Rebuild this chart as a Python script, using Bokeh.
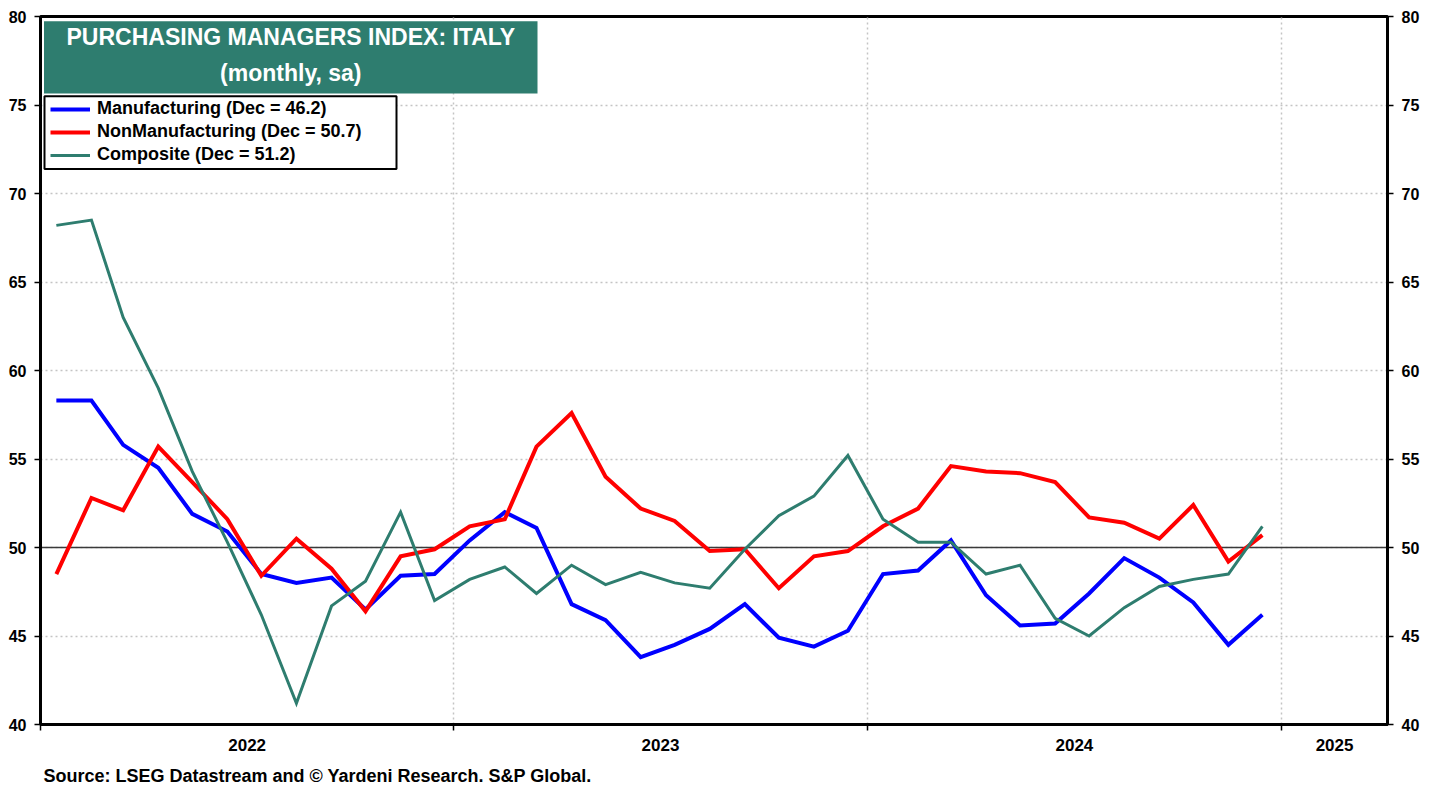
import pandas as pd
from bokeh.plotting import figure
from bokeh.models import (Range1d, FixedTicker, LinearAxis, Span, BoxAnnotation,
                          Label, Legend, LegendItem, Title)
from bokeh.embed import file_html
from bokeh.resources import INLINE

# ---------------- data ----------------
months = pd.date_range("2022-01-01", "2024-12-01", freq="MS") + pd.Timedelta(days=14)

manufacturing = [58.3, 58.3, 55.8, 54.5, 51.9, 50.9, 48.5, 48.0, 48.3, 46.5, 48.4, 48.5,
                 50.4, 52.0, 51.1, 46.8, 45.9, 43.8, 44.5, 45.4, 46.8, 44.9, 44.4, 45.3,
                 48.5, 48.7, 50.4, 47.3, 45.6, 45.7, 47.4, 49.4, 48.3, 46.9, 44.5, 46.2]
nonmanufacturing = [48.5, 52.8, 52.1, 55.7, 53.7, 51.6, 48.4, 50.5, 48.8, 46.4, 49.5, 49.9,
                    51.2, 51.6, 55.7, 57.6, 54.0, 52.2, 51.5, 49.8, 49.9, 47.7, 49.5, 49.8,
                    51.2, 52.2, 54.6, 54.3, 54.2, 53.7, 51.7, 51.4, 50.5, 52.4, 49.2, 50.7]
composite = [68.2, 68.5, 63.0, 59.0, 54.3, 50.3, 46.2, 41.2, 46.7, 48.1, 52.0, 47.0,
             48.2, 48.9, 47.4, 49.0, 47.9, 48.6, 48.0, 47.7, 49.9, 51.8, 52.9, 55.2,
             51.6, 50.3, 50.3, 48.5, 49.0, 46.0, 45.0, 46.6, 47.8, 48.2, 48.5, 51.2]

legend_labels = ["Manufacturing (Dec = 46.2)",
                 "NonManufacturing (Dec = 50.7)",
                 "Composite (Dec = 51.2)"]
title_lines = ["PURCHASING MANAGERS INDEX: ITALY", "(monthly, sa)"]
source_text = "Source: LSEG Datastream and \u00a9 Yardeni Research. S&P Global."
year_labels = ["2022", "2023", "2024", "2025"]
y_ticks = [40, 45, 50, 55, 60, 65, 70, 75, 80]
neutral_level = 50

# ---------------- style ----------------
BLUE = "#0000FF"
RED = "#FF0000"
TEAL = "#2E7D6F"
FONT = "Liberation Sans"
GRID = "#c4c4c4"

x_start = pd.Timestamp("2022-01-01")
x_end = pd.Timestamp("2025-04-04 12:00")


def ms(ts):
    return float(pd.Timestamp(ts).value // 10**6)


year_starts = [pd.Timestamp(f"{y}-01-01") for y in year_labels]
label_pos = []
for i, ys in enumerate(year_starts):
    ye = year_starts[i + 1] if i + 1 < len(year_starts) else x_end
    label_pos.append(ms(ys + (ye - ys) / 2))

p = figure(width=1439, height=785, x_axis_type="datetime",
           x_range=Range1d(start=x_start, end=x_end),
           y_range=Range1d(start=y_ticks[0], end=y_ticks[-1]),
           output_backend="svg", toolbar_location=None,
           min_border_left=40, min_border_right=52,
           min_border_top=16, min_border_bottom=61,
           background_fill_color="white", border_fill_color="white")

p.outline_line_color = "black"
p.outline_line_width = 3
p.outline_line_alpha = 1

# x axis
xax = p.xaxis[0]
xax.ticker = FixedTicker(ticks=label_pos, minor_ticks=[ms(y) for y in year_starts])
xax.major_label_overrides = {pos: lab for pos, lab in zip(label_pos, year_labels)}
xax.major_tick_out = 0
xax.major_tick_in = 0
xax.minor_tick_out = 6
xax.minor_tick_in = 0
xax.minor_tick_line_color = "black"
xax.minor_tick_line_width = 1.5
xax.axis_line_width = 3
xax.axis_line_color = "black"
xax.major_label_standoff = 8
xax.major_label_text_font = FONT
xax.major_label_text_font_style = "bold"
xax.major_label_text_font_size = "17px"
xax.major_label_text_color = "black"
# blank axis label used only as a small spacer above the source note
xax.axis_label = " "
xax.axis_label_text_font_size = "5px"
xax.axis_label_standoff = 1

p.xgrid.grid_line_color = None
p.xgrid.minor_grid_line_color = GRID
p.xgrid.minor_grid_line_dash = "2 3"
p.xgrid.minor_grid_line_width = 1.5

# y axes
yax = p.yaxis[0]
right_ax = LinearAxis()
p.add_layout(right_ax, "right")
for ax in (yax, right_ax):
    ax.ticker = FixedTicker(ticks=y_ticks)
    ax.major_tick_out = 6
    ax.major_tick_in = 0
    ax.minor_tick_out = 0
    ax.minor_tick_in = 0
    ax.major_tick_line_width = 1.5
    ax.axis_line_width = 3
    ax.axis_line_color = "black"
    ax.major_label_standoff = 8
    ax.major_label_text_font = FONT
    ax.major_label_text_font_style = "bold"
    ax.major_label_text_font_size = "16px"
    ax.major_label_text_color = "black"

p.ygrid.ticker = FixedTicker(ticks=y_ticks)
p.ygrid.grid_line_color = GRID
p.ygrid.grid_line_dash = "2 3"
p.ygrid.grid_line_width = 1.5

p.add_layout(Span(location=neutral_level, dimension="width", line_color="#3a3a3a",
                  line_width=1.5, level="underlay"))

# series
r_man = p.line(months, manufacturing, line_color=BLUE, line_width=4, line_join="miter")
r_non = p.line(months, nonmanufacturing, line_color=RED, line_width=4, line_join="miter")
r_com = p.line(months, composite, line_color=TEAL, line_width=3, line_join="miter")

# title box (screen units, relative to plot frame)
p.add_layout(BoxAnnotation(left=3.5, right=497, top=703.3, bottom=631,
                           left_units="screen", right_units="screen",
                           top_units="screen", bottom_units="screen",
                           fill_color=TEAL, fill_alpha=1, line_color=None,
                           level="annotation"))
for txt, yy in zip(title_lines, [687.2, 651.5]):
    p.add_layout(Label(x=250.3, y=yy, x_units="screen", y_units="screen", text=txt,
                       text_align="center", text_baseline="middle",
                       text_font=FONT, text_font_style="bold", text_font_size="23px",
                       text_color="white"))

# legend frame + legend
p.add_layout(BoxAnnotation(left=4, right=356, top=628.3, bottom=555.4,
                           left_units="screen", right_units="screen",
                           top_units="screen", bottom_units="screen",
                           fill_color="white", fill_alpha=1, line_color="black",
                           line_alpha=1, line_width=2, level="annotation"))
legend = Legend(items=[LegendItem(label=lab, renderers=[r])
                       for lab, r in zip(legend_labels, [r_man, r_non, r_com])],
                location=(10, 559), padding=0, spacing=2, margin=0,
                label_height=20, glyph_height=20, glyph_width=40, label_standoff=7,
                border_line_color=None, background_fill_alpha=0,
                label_text_font=FONT, label_text_font_style="bold",
                label_text_font_size="18px", label_text_color="black")
p.add_layout(legend)

# source note
p.add_layout(Title(text=source_text, align="left", offset=3, standoff=0,
                   vertical_align="bottom",
                   text_font=FONT, text_font_style="bold", text_font_size="18px",
                   text_color="black"), "below")

open("out.html", "w").write(file_html(p, INLINE))
